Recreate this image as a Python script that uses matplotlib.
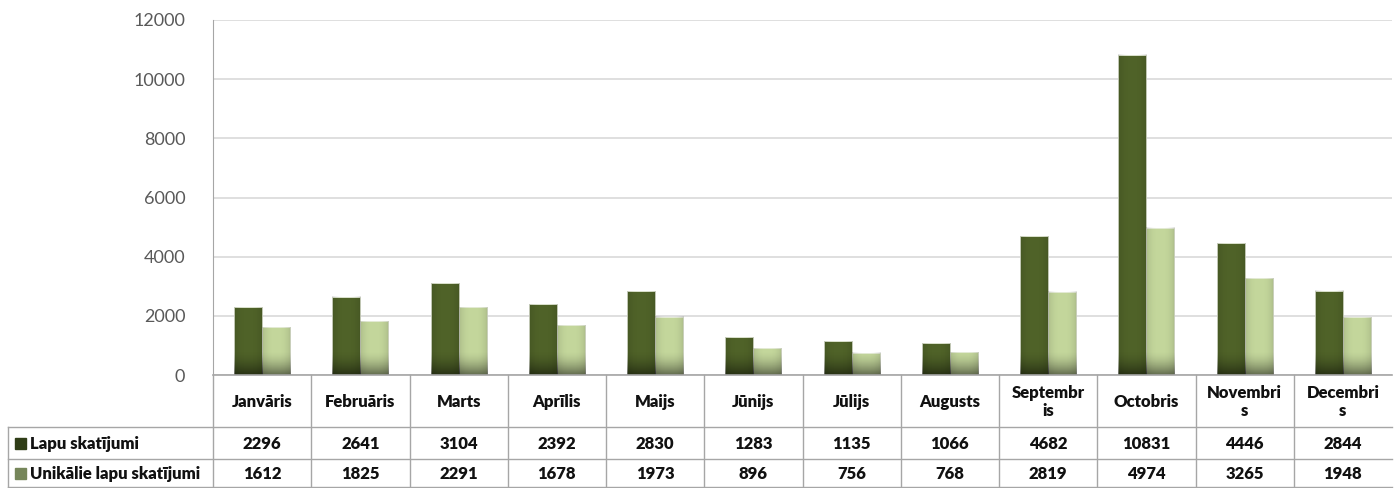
import numpy as np
import matplotlib
matplotlib.use('Agg')
import matplotlib.pyplot as plt
from matplotlib.patches import Rectangle

plt.rcParams['font.family'] = ['Lato', 'DejaVu Sans']

months = ['Janvāris', 'Februāris', 'Marts', 'Aprīlis', 'Maijs', 'Jūnijs', 'Jūlijs',
          'Augusts', 'Septembr\nis', 'Octobris', 'Novembri\ns', 'Decembri\ns']
page_views = [2296, 2641, 3104, 2392, 2830, 1283, 1135, 1066, 4682, 10831, 4446, 2844]
unique_views = [1612, 1825, 2291, 1678, 1973, 896, 756, 768, 2819, 4974, 3265, 1948]
series_names = ['Lapu skatījumi', 'Unikālie lapu skatījumi']

dark = '#4f6228'
light = '#c3d69b'
key_colors = ['#2f3d17', '#76865a']

W, H = 1400, 488
fig = plt.figure(figsize=(W / 100, H / 100), dpi=100)

# plot area in pixel terms
x_left, x_right, y_top, y_base = 213, 1392, 20, 375
ax = fig.add_axes([x_left / W, (H - y_base) / H, (x_right - x_left) / W, (y_base - y_top) / H])

ymax = 12000
px_per_unit = (y_base - y_top) / ymax
shade_h = 24 / px_per_unit  # bottom shading, ~24 px tall

x = np.arange(len(months))
bw = 0.285
ramp = np.linspace(0, 1, 64) ** 1.6
# slight darkening towards left/right edges of each bar
side = 1 - 0.12 * (np.abs(np.linspace(-1, 1, 32)) ** 3)


def draw_bars(xpos, vals, color):
    bars = ax.bar(xpos, vals, bw, color=color, edgecolor='#e4ead6', linewidth=0.6, zorder=3)
    for b, v in zip(bars, vals):
        # edge shading over the full bar
        img = np.zeros((2, 32, 4))
        img[..., 3] = (1 - side)[None, :]
        ax.imshow(img, extent=[b.get_x(), b.get_x() + bw, 0, v], aspect='auto',
                  zorder=4, interpolation='bilinear')
        # bottom shading
        h = min(v, shade_h)
        img = np.zeros((64, 1, 4))
        img[..., 3] = (ramp * 0.5)[:, None]
        ax.imshow(img, extent=[b.get_x(), b.get_x() + bw, 0, h], aspect='auto',
                  origin='upper', zorder=4, interpolation='bilinear')


draw_bars(x - bw / 2, page_views, dark)
draw_bars(x + bw / 2, unique_views, light)

ax.set_xlim(-0.5, len(months) - 0.5)
ax.set_ylim(0, ymax)
ax.set_yticks(range(0, ymax + 1, 2000))
ax.set_xticks([])
ax.yaxis.grid(True, color='#d9d9d9', linewidth=1.2, zorder=0)
ax.tick_params(axis='y', length=0, pad=20, labelsize=13, labelcolor='#595959')
for s in ['top', 'right', 'bottom']:
    ax.spines[s].set_visible(False)
ax.spines['left'].set_color('#a6a6a6')

# data table drawn in pixel coordinates
tab = fig.add_axes([0, 0, 1, 1])
tab.set_xlim(0, W)
tab.set_ylim(H, 0)
tab.axis('off')

line_c = '#a6a6a6'
col_w = (x_right - x_left) / len(months)
row_y = [y_base, 427, 459, 487]
tab_left = 8

tab.plot([x_left, x_right], [y_base, y_base], color=line_c, lw=1.2)
for yy in row_y[1:]:
    tab.plot([tab_left, x_right], [yy, yy], color=line_c, lw=1)
for i in range(len(months)):
    xx = x_left + i * col_w
    tab.plot([xx, xx], [y_base, row_y[-1]], color=line_c, lw=1)
tab.plot([tab_left, tab_left], [row_y[1], row_y[-1]], color=line_c, lw=1)

tfont = dict(fontsize=12, fontweight='heavy', color='#111111')
for i, m in enumerate(months):
    cx = x_left + (i + 0.5) * col_w
    tab.text(cx, (row_y[0] + row_y[1]) / 2 + 1, m, ha='center', va='center',
             linespacing=1.2, **tfont)
    tab.text(cx, (row_y[1] + row_y[2]) / 2 + 1, str(page_views[i]), ha='center', va='center', **tfont)
    tab.text(cx, (row_y[2] + row_y[3]) / 2 + 1, str(unique_views[i]), ha='center', va='center', **tfont)

for r, (name, kc) in enumerate(zip(series_names, key_colors)):
    cy = (row_y[r + 1] + row_y[r + 2]) / 2
    tab.add_patch(Rectangle((15, cy - 5.5), 11, 11, color=kc))
    tab.text(30, cy + 1, name, ha='left', va='center', **tfont)

fig.savefig('out.png', dpi=100)
